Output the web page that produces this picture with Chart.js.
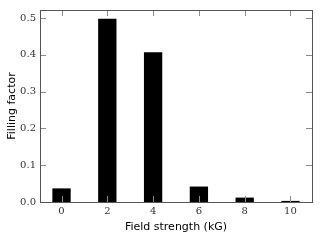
<!DOCTYPE html>
<html><head><meta charset="utf-8">
<script src="https://cdn.jsdelivr.net/npm/chart.js@4"></script>
<style>html,body{margin:0;padding:0;background:#fff}#w{width:320px;height:240px}</style>
</head><body><div id="w"><canvas id="c"></canvas></div>
<script>
const fieldStrength = [0, 2, 4, 6, 8, 10];
const fillingFactor = [0.037, 0.498, 0.407, 0.042, 0.012, 0.003];
const xTickValues = [0, 2, 4, 6, 8, 10];
const yTickValues = [0.0, 0.1, 0.2, 0.3, 0.4, 0.5];

const frame = {
  id: 'frame',
  afterDatasetsDraw(chart) {
    const {ctx, chartArea: a, scales: {x, y}} = chart;
    ctx.save();
    ctx.strokeStyle = '#8a8a8a';
    ctx.lineWidth = 1;
    const L = 6;
    ctx.beginPath();
    xTickValues.forEach(v => {
      const px = Math.round(x.getPixelForValue(v)) + 0.5;
      ctx.moveTo(px, a.top); ctx.lineTo(px, a.top + L);
      ctx.moveTo(px, a.bottom); ctx.lineTo(px, a.bottom - L);
    });
    yTickValues.forEach(v => {
      const py = Math.round(y.getPixelForValue(v)) + 0.5;
      ctx.moveTo(a.left, py); ctx.lineTo(a.left + L, py);
      ctx.moveTo(a.right, py); ctx.lineTo(a.right - L, py);
    });
    ctx.stroke();
    ctx.strokeStyle = '#555';
    ctx.strokeRect(Math.round(a.left) + 0.5, Math.round(a.top) + 0.5,
      Math.round(a.right - a.left), Math.round(a.bottom - a.top));
    ctx.restore();
  }
};

new Chart(document.getElementById('c'), {
  type: 'bar',
  data: {
    datasets: [{
      data: fieldStrength.map((v, i) => ({x: v, y: fillingFactor[i]})),
      backgroundColor: '#000',
      borderWidth: 0,
      categoryPercentage: 0.4,
      barPercentage: 1.0
    }]
  },
  options: {
    responsive: true,
    maintainAspectRatio: false,
    animation: false,
    layout: {padding: {top: 7, right: 8, left: 0, bottom: 0}},
    plugins: {legend: {display: false}, tooltip: {enabled: false}},
    scales: {
      x: {
        type: 'linear',
        offset: false,
        min: -0.94, max: 10.94,
        afterFit(s) { s.height = 38; },
        grid: {display: false, drawTicks: false, offset: false},
        border: {display: false},
        ticks: {
          stepSize: 2, includeBounds: false, padding: 3,
          color: '#333',
          font: {family: 'DejaVu Serif', size: 10}
        },
        title: {
          display: true, text: 'Field strength (kG)', color: '#000',
          font: {family: 'DejaVu Sans', size: 11}, padding: {top: 0, bottom: 6}
        }
      },
      y: {
        min: 0, max: 0.522,
        afterFit(s) { s.width = 40; },
        grid: {display: false, drawTicks: false},
        border: {display: false},
        ticks: {
          stepSize: 0.1, includeBounds: false, padding: 4,
          color: '#333',
          font: {family: 'DejaVu Serif', size: 10},
          callback: v => Number(v).toFixed(1)
        },
        title: {
          display: true, text: 'Filling factor', color: '#000',
          font: {family: 'DejaVu Sans', size: 11}, padding: {top: 6, bottom: 2}
        }
      }
    }
  },
  plugins: [frame]
});
</script></body></html>
